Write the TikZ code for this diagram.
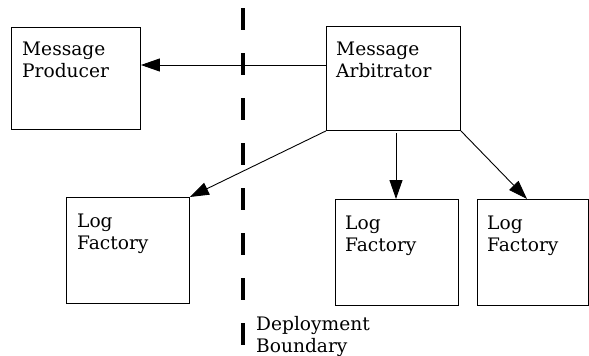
\documentclass[tikz,border=0pt]{standalone}
\usepackage{fontspec}
\setmainfont{DejaVu Serif}
\usetikzlibrary{arrows.meta}
\begin{document}
\begin{tikzpicture}[x=1pt,y=-1pt,
  box/.style={draw,line width=0.9pt,rectangle,inner sep=0pt,anchor=north west},
  lbl/.style={anchor=base west,inner sep=0pt,align=left,
    font=\fontsize{18.6}{22}\selectfont},
  conn/.style={line width=0.9pt,-{Triangle[length=19pt,width=13pt]}},
  boundary/.style={line width=3.5pt,dash pattern=on 22pt off 23pt}]
\useasboundingbox (0,0) rectangle (589,356);
% boxes
\node[box,minimum width=129pt,minimum height=102pt] (prod) at (11,27) {};
\node[box,minimum width=134pt,minimum height=104pt] (arb) at (326,26) {};
\node[box,minimum width=123pt,minimum height=106pt] (lf1) at (66,197) {};
\node[box,minimum width=123pt,minimum height=106pt] (lf2) at (335,199) {};
\node[box,minimum width=111pt,minimum height=106pt] (lf3) at (477,199) {};
% labels (anchored at the baseline of the second line)
\node[lbl] (tprod) at (22,77) {Message\\Producer};
\node[lbl] (tarb) at (336,77) {Message\\Arbitrator};
\node[lbl] (tlf1) at (77,249) {Log\\Factory};
\node[lbl] (tlf2) at (345,251) {Log\\Factory};
\node[lbl] (tlf3) at (487,251) {Log\\Factory};
\node[lbl] (tdep) at (256,352) {Deployment\\Boundary};
% deployment boundary
\coordinate (btop) at (243,8);
\coordinate (bbot) at (243,345);
\draw[boundary] (btop) -- (bbot);
% connectors
\coordinate (a1) at (396,133);
\coordinate (t4) at (527,199);
\draw[conn] (arb.west |- 0,65) -- (prod.east |- 0,65);
\draw[conn] (arb.south west) -- (lf1.north east);
\draw[conn] (a1) -- (a1 |- lf2.north);
\draw[conn] (arb.south east) -- (t4);
\end{tikzpicture}
\end{document}
